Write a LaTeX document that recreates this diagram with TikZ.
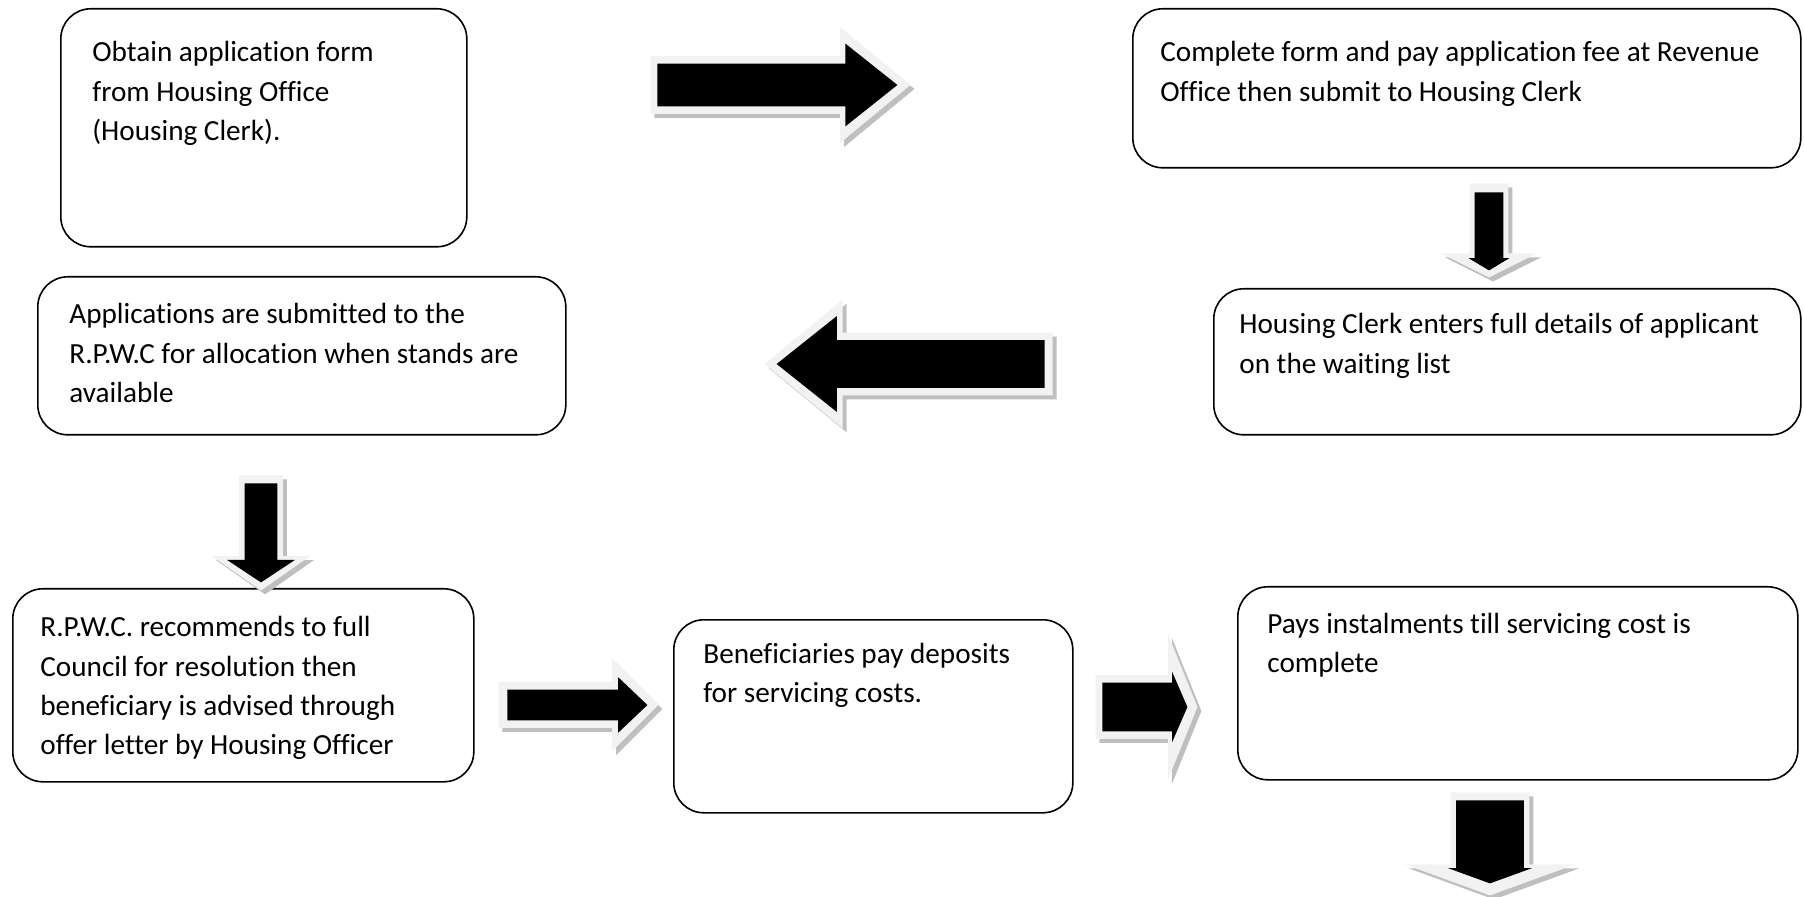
\documentclass[tikz,border=0pt]{standalone}
\usepackage{fontspec}
\setmainfont[Ligatures=NoCommon]{Carlito}
\usetikzlibrary{shapes.arrows,shadows}

\definecolor{rimgrey}{HTML}{F2F2F2}
\definecolor{shadegrey}{HTML}{BFBFBF}

\newcommand{\steplines}[1]{\parbox[t]{12cm}{#1}}

\tikzset{
  stepbox/.style={draw, line width=0.8pt, rounded corners=15pt,
    anchor=north west, inner sep=0pt},
  steptext/.style={anchor=base west, inner sep=0pt,
    font=\fontsize{14.6}{19.6}\selectfont},
  arrowrim/.style n args={4}{single arrow, anchor=tail, fill=rimgrey,
    inner xsep=0pt, minimum width=0pt, minimum height=#1pt,
    inner ysep=#2pt, single arrow head extend=#3pt,
    single arrow tip angle=#4,
    drop shadow={fill=shadegrey, opacity=1,
      shadow xshift=2pt, shadow yshift=-2pt}},
  arrowcore/.style n args={4}{single arrow, anchor=tail, fill=black,
    inner xsep=0pt, minimum width=0pt, minimum height=#1pt,
    inner ysep=#2pt, single arrow head extend=#3pt,
    single arrow tip angle=#4},
  % pointing down: the shaft comes from the x padding then
  turned/.style={shape border rotate=270, inner ysep=0pt, inner xsep=#1pt}
}

\begin{document}
\begin{tikzpicture}[x=0.5pt, y=-0.5pt]
  \useasboundingbox (0,0) rectangle (1804,897);

  % steps
  \node[stepbox, minimum width=203pt, minimum height=119pt] (obtain) at (60,8) {};
  \node[steptext] (obtaintext) at (92,62) {\steplines{Obtain application form\\
    from Housing Office\\(Housing Clerk).}};

  \node[stepbox, minimum width=334pt, minimum height=79.5pt] (complete) at (1132,8) {};
  \node[steptext] (completetext) at (1160,62) {\steplines{Complete form and pay application fee at Revenue\\
    Office then submit to Housing Clerk}};

  \node[stepbox, minimum width=293.5pt, minimum height=73pt] (enter) at (1213,288) {};
  \node[steptext] (entertext) at (1239,334) {\steplines{Housing Clerk enters full details of applicant\\
    on the waiting list}};

  \node[stepbox, minimum width=264pt, minimum height=79pt] (submit) at (37,276) {};
  \node[steptext] (submittext) at (69,324) {\steplines{Applications are submitted to the\\
    R.P.W.C for allocation when stands are\\available}};

  \node[stepbox, minimum width=230.5pt, minimum height=96.5pt] (recommend) at (12,588) {};
  \node[steptext] (recommendtext) at (40,637) {\steplines{R.P.W.C. recommends to full\\
    Council for resolution then\\beneficiary is advised through\\
    offer letter by Housing Officer}};

  \node[stepbox, minimum width=199.5pt, minimum height=96.5pt] (deposit) at (673,619) {};
  \node[steptext] (deposittext) at (703,663) {\steplines{Beneficiaries pay deposits\\
    for servicing costs.}};

  \node[stepbox, minimum width=280pt, minimum height=96.5pt] (instal) at (1237,586) {};
  \node[steptext] (instaltext) at (1267,633) {\steplines{Pays instalments till servicing cost is\\
    complete}};

  % block arrows
  \node[arrowrim={130}{14.25}{14.5}{79}] (a1rim) at (650,85) {};
  \node[arrowcore={120}{10.5}{10}{77}] (a1) at (657,85) {};

  \node[arrowrim={47}{0}{14.5}{127}, turned=9.5] (a2rim) at (1489,183) {};
  \node[arrowcore={39}{0}{3}{118}, turned=7] (a2) at (1489,192) {};

  \node[arrowrim={144}{15.5}{16.5}{79}, shape border rotate=180] (a3rim) at (1053,364) {};
  \node[arrowcore={134}{11.75}{12}{77}, shape border rotate=180] (a3) at (1045,364) {};

  \node[arrowrim={57.5}{0}{13.5}{110}, turned=10.75] (a4rim) at (261,475) {};
  \node[arrowcore={49.5}{0}{8.75}{113}, turned=8] (a4) at (261,483) {};

  \node[arrowrim={80}{11.25}{11.75}{90}] (a5rim) at (498,705) {};
  \node[arrowcore={70}{7.5}{6.25}{87}] (a5) at (507,705) {};

  \node[arrowrim={51}{15.75}{20.5}{136}] (a6rim) at (1095,707) {};
  \node[arrowcore={42.5}{12}{5.25}{133}] (a6) at (1102,707) {};

  \node[arrowrim={51.5}{0}{23}{140}, turned=19.5] (a7rim) at (1490,792) {};
  \node[arrowcore={41.5}{0}{4}{140}, turned=16.75] (a7) at (1490,800) {};
\end{tikzpicture}
\end{document}
